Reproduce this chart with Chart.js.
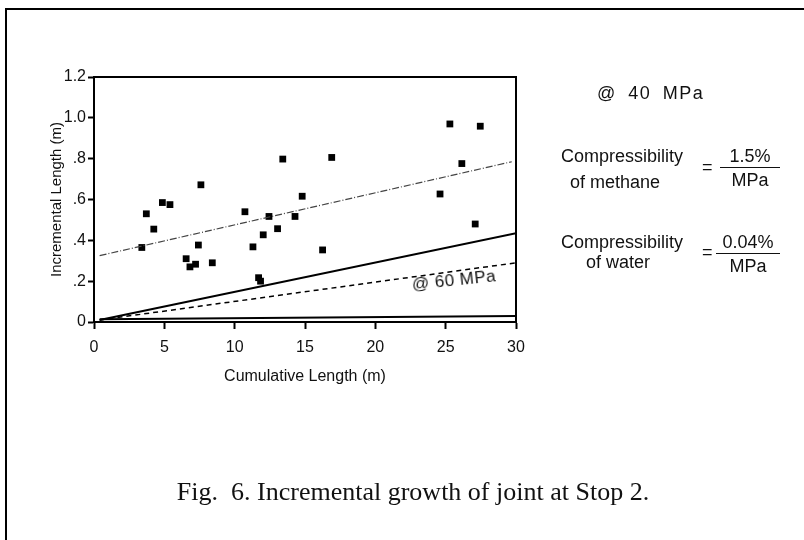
<!DOCTYPE html>
<html>
<head>
<meta charset="utf-8">
<script src="https://cdn.jsdelivr.net/npm/chart.js@4.4.0/dist/chart.umd.min.js"></script>
<style>
  html, body { margin: 0; padding: 0; background: #fff; }
  body { width: 804px; height: 540px; position: relative; overflow: hidden; font-family: "Liberation Sans", Arial, sans-serif; }
  #frame { position: absolute; left: 5px; top: 8px; width: 820px; height: 560px; border-left: 2px solid #000; border-top: 2px solid #000; }
  #wrap { position: absolute; left: 0; top: 0; width: 804px; height: 540px; }
  .t { position: absolute; color: #111; font-size: 18px; white-space: nowrap; line-height: 1; }
  .frac { position: absolute; color: #111; font-size: 18px; text-align: center; line-height: 1; }
  .frac .num { border-bottom: 1.5px solid #111; padding: 0 2px 2px 2px; }
  .frac .den { padding-top: 3px; }
  #caption { position: absolute; left: 0; width: 826px; top: 476px; text-align: center; font-family: "Liberation Serif", "Times New Roman", serif; font-size: 26px; line-height: 1.2; color: #111; }
  #p60 { position: absolute; left: 412px; top: 275px; font-size: 17px; letter-spacing: 0.5px; color: #111; transform: rotate(-6deg); transform-origin: left center; white-space: nowrap; }
</style>
</head>
<body>
<div id="frame"></div>
<div id="wrap"><canvas id="c" width="804" height="540"></canvas></div>

<div class="t" style="left:597px; top:84px; letter-spacing:1.5px; word-spacing:5px;">@ 40 MPa</div>

<div class="t" style="left:561px; top:147px;">Compressibility</div>
<div class="t" style="left:570px; top:173px;">of methane</div>
<div class="t" style="left:702px; top:158px;">=</div>
<div class="frac" style="left:720px; top:147px; width:60px;"><div class="num">1.5%</div><div class="den">MPa</div></div>

<div class="t" style="left:561px; top:233px;">Compressibility</div>
<div class="t" style="left:586px; top:253px;">of water</div>
<div class="t" style="left:702px; top:243px;">=</div>
<div class="frac" style="left:716px; top:233px; width:64px;"><div class="num">0.04%</div><div class="den">MPa</div></div>

<div id="p60">@ 60 MPa</div>
<div id="caption">Fig.&nbsp; 6. Incremental growth of joint at Stop 2.</div>

<script>
// Measured joints
const cumLength = [3.4, 3.72, 4.25, 4.86, 5.4, 6.55, 6.82, 7.22, 7.42, 7.6, 8.41, 10.73, 11.3, 11.7, 11.84, 12.03, 12.44, 13.05, 13.42, 14.29, 14.8, 16.25, 16.9, 24.6, 25.3, 26.15, 27.1, 27.46];
const incLength = [0.365, 0.53, 0.455, 0.585, 0.575, 0.31, 0.27, 0.283, 0.377, 0.672, 0.29, 0.54, 0.368, 0.217, 0.2, 0.427, 0.517, 0.457, 0.798, 0.517, 0.616, 0.353, 0.806, 0.627, 0.97, 0.776, 0.48, 0.959];

// Line end points (x, y)
const fitX = [0.4, 29.7];
const fitY = [0.325, 0.785];
const methane40X = [0.4, 30];
const methane40Y = [0.01, 0.435];
const methane60X = [0.4, 30];
const methane60Y = [0.01, 0.29];
const waterX = [0.4, 30];
const waterY = [0.014, 0.03];

const xTicks = [0, 5, 10, 15, 20, 25, 30];
const yTicks = [0, 0.2, 0.4, 0.6, 0.8, 1.0, 1.2];
const yTickLabels = ["0", ".2", ".4", ".6", ".8", "1.0", "1.2"];

const toPts = (xs, ys) => xs.map((x, i) => ({x: x, y: ys[i]}));

const framePlugin = {
  id: 'frameLines',
  afterDraw(chart) {
    const {ctx, chartArea: a} = chart;
    ctx.save();
    ctx.strokeStyle = '#000';
    ctx.lineWidth = 2;
    ctx.beginPath();
    ctx.moveTo(a.left, a.top);
    ctx.lineTo(a.right, a.top);
    ctx.lineTo(a.right, a.bottom);
    ctx.stroke();
    ctx.restore();
  }
};

new Chart(document.getElementById('c'), {
  type: 'scatter',
  data: {
    datasets: [
      { label: 'fit', type: 'line', data: toPts(fitX, fitY), borderColor: '#444', borderWidth: 1.2, borderDash: [7, 2, 1, 2], pointRadius: 0, fill: false },
      { label: '40 MPa', type: 'line', data: toPts(methane40X, methane40Y), borderColor: '#000', borderWidth: 2, pointRadius: 0, fill: false },
      { label: '60 MPa', type: 'line', data: toPts(methane60X, methane60Y), borderColor: '#000', borderWidth: 1.5, borderDash: [5, 4], pointRadius: 0, fill: false },
      { label: 'water', type: 'line', data: toPts(waterX, waterY), borderColor: '#000', borderWidth: 2, pointRadius: 0, fill: false },
      { label: 'joints', data: toPts(cumLength, incLength), pointStyle: 'rect', pointRadius: 4.8, pointHoverRadius: 4.8, backgroundColor: '#000', borderColor: '#000', borderWidth: 0 }
    ]
  },
  options: {
    responsive: false,
    animation: false,
    events: [],
    layout: { padding: { left: 0, top: 77, right: 288, bottom: 148 } },
    plugins: { legend: { display: false }, tooltip: { enabled: false } },
    scales: {
      x: {
        type: 'linear', min: 0, max: 30,
        afterBuildTicks: (s) => { s.ticks = xTicks.map(v => ({value: v})); },
        afterFit: (s) => { s.height = 70; },
        border: { display: true, color: '#000', width: 2 },
        grid: { display: true, drawOnChartArea: false, drawTicks: true, tickLength: 7, tickColor: '#000', tickWidth: 2 },
        ticks: { color: '#111', font: { family: 'Liberation Sans', size: 16 }, padding: 9, maxRotation: 0 },
        title: { display: true, text: 'Cumulative Length (m)', color: '#111', font: { family: 'Liberation Sans', size: 16 }, padding: { top: 0, bottom: 6 } }
      },
      y: {
        type: 'linear', min: 0, max: 1.2,
        afterBuildTicks: (s) => { s.ticks = yTicks.map(v => ({value: v})); },
        afterFit: (s) => { s.width = 94; },
        border: { display: true, color: '#000', width: 2 },
        grid: { display: true, drawOnChartArea: false, drawTicks: true, tickLength: 6, tickColor: '#000', tickWidth: 2 },
        ticks: { color: '#111', font: { family: 'Liberation Sans', size: 16 }, padding: 2,
          callback: (v, i) => yTickLabels[i] },
        title: { display: true, text: 'Incremental Length (m)', color: '#111', font: { family: 'Liberation Sans', size: 15 }, padding: { top: 48, bottom: 0 } }
      }
    }
  },
  plugins: [framePlugin]
});
</script>
</body>
</html>
